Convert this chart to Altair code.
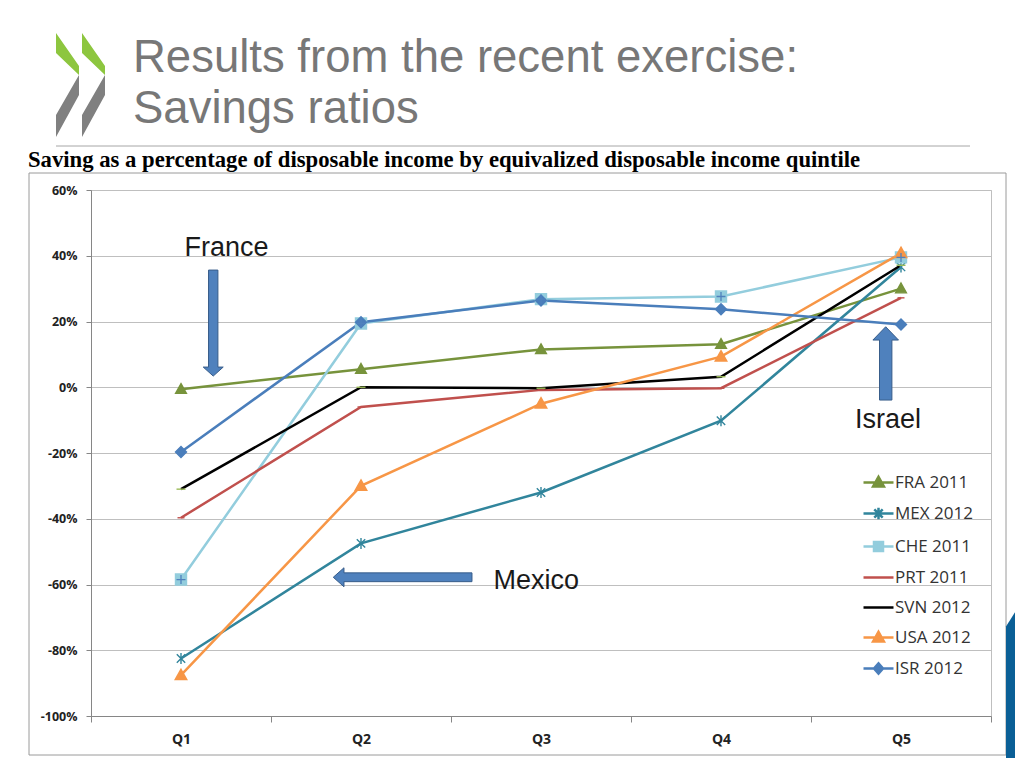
import altair as alt
import pandas as pd

# ---------------- data ----------------
quintiles = ["Q1", "Q2", "Q3", "Q4", "Q5"]
series_names = ["FRA 2011", "MEX 2012", "CHE 2011", "PRT 2011", "SVN 2012", "USA 2012", "ISR 2012"]
fra_2011 = [-0.6, 5.5, 11.5, 13.1, 30.0]
mex_2012 = [-82.5, -47.5, -32.0, -10.2, 36.6]
che_2011 = [-58.5, 19.4, 26.8, 27.6, 39.5]
prt_2011 = [-39.7, -6.0, -0.8, -0.3, 27.2]
svn_2012 = [-31.0, 0.0, -0.3, 3.2, 37.1]
usa_2012 = [-87.6, -30.0, -5.0, 9.3, 40.8]
isr_2012 = [-19.7, 19.8, 26.4, 23.7, 19.1]
series_values = [fra_2011, mex_2012, che_2011, prt_2011, svn_2012, usa_2012, isr_2012]

y_ticks = [-100, -80, -60, -40, -20, 0, 20, 40, 60]

# annotations (position in data units: quintile position, percent)
note_texts = ["France", "Israel", "Mexico"]
note_q = [1.02, 4.744, 2.736]
note_pct = [39.9, -12.3, -61.5]
arrow_names = ["France", "Israel", "Mexico"]
arrow_tip_q = [1.179, 4.915, 1.846]
arrow_tip_pct = [3.4, 18.4, -57.8]

title_line1 = "Results from the recent exercise:"
title_line2 = "Savings ratios"
subtitle = "Saving as a percentage of disposable income by equivalized disposable income quintile"

# ---------------- tables ----------------
rows = []
for name, vals in zip(series_names, series_values):
    for i, v in enumerate(vals):
        rows.append({"series": name, "q": i + 1, "quintile": quintiles[i], "pct": v})
df = pd.DataFrame(rows)

notes_df = pd.DataFrame({"text": note_texts, "q": note_q, "pct": note_pct})
arrows_df = pd.DataFrame({"name": arrow_names, "q": arrow_tip_q, "pct": arrow_tip_pct})
one = pd.DataFrame({"a": [0]})

# ---------------- styles ----------------
line_colors = ["#77933C", "#31859C", "#93CDDD", "#C0504D", "#000000", "#F79646", "#4A7EBB"]
marker_fill = ["#77933C", "#31859C", "#93CDDD", "#C0504D", "#9BBB59", "#F79646", "#4A7EBB"]
marker_stroke = ["#77933C", "#31859C", "#93CDDD", "#C0504D", "#9BBB59", "#F79646", "#4A7EBB"]
tri = "M0,-5.6L5.4,4.2L-5.4,4.2Z"
marker_paths = [
    tri,
    "M-4.2,-4.2L4.2,4.2M-4.2,4.2L4.2,-4.2M0,-5.5V5.5",
    "M-5.5,-5.5H5.5V5.5H-5.5Z",
    "M-3.5,0H3.5",
    "M-4.5,0H4.5",
    "M0,-6L5.8,4.4L-5.8,4.4Z",
    "M0,-5.5L5.5,0L0,5.5L-5.5,0Z",
]
ltri = "M-1,0H1M0,-0.38L0.36,0.26L-0.36,0.26Z"
legend_paths = [
    ltri,
    "M-1,0H1M-0.28,-0.28L0.28,0.28M-0.28,0.28L0.28,-0.28M0,-0.38V0.38",
    "M-1,0H1M-0.3,-0.3H0.3V0.3H-0.3ZM0,-0.3V0.3",
    "M-1,0H1",
    "M-1,0H1",
    ltri,
    "M-1,0H1M0,-0.34L0.3,0L0,0.34L-0.3,0Z",
]
arrow_paths = {
    "France": "M-4.7,-106H4.7V-9H10L0,0L-10,-9H-4.7Z",
    "Israel": "M0,0L12.8,13.3H6.2V73.3H-6.2V13.3H-12.8Z",
    "Mexico": "M0,0L10.7,-9.5V-4.4H138.7V4.4H10.7V9.5Z",
}

AX = "#868686"
FONT = "Open Sans"

x_enc = alt.X(
    "q:Q",
    scale=alt.Scale(domain=[0.5, 5.5], nice=False, zero=False),
    axis=alt.Axis(
        values=[0.5, 1.5, 2.5, 3.5, 4.5, 5.5],
        labelExpr="[" + ",".join("'%s'" % s for s in quintiles) + "][round(datum.value - 0.5)] || ''",
        labelOffset=90,
        labelFlush=False,
        labelOverlap=False,
        grid=False,
        tickSize=6,
        tickColor=AX,
        domainColor=AX,
        labelFont=FONT,
        labelFontWeight="bold",
        labelFontSize=14,
        labelColor="#222222",
        labelPadding=10,
        title=None,
    ),
)
y_enc = alt.Y(
    "pct:Q",
    scale=alt.Scale(domain=[-100, 60], nice=False, zero=False),
    axis=alt.Axis(
        values=y_ticks,
        labelExpr="datum.value + '%'",
        grid=True,
        gridColor="#BFBFBF",
        gridWidth=1,
        tickSize=5,
        tickColor=AX,
        domainColor=AX,
        labelFont=FONT,
        labelFontWeight="bold",
        labelFontSize=12.5,
        labelColor="#222222",
        labelPadding=9,
        title=None,
    ),
)

# ---------------- decorations ----------------
box = alt.Chart(one).mark_rect(fillOpacity=0, stroke="#9A9A9A", strokeWidth=1).encode(
    x=alt.value(-62), x2=alt.value(915), y=alt.value(-17), y2=alt.value(565)
)
corner = alt.Chart(one).mark_point(
    shape="M0,28.6L18,0L18,170L0,170Z", size=4, filled=True, fill="#0A5F96", opacity=1
).encode(x=alt.value(915), y=alt.value(408))

logo_green = alt.Chart(one).mark_point(
    shape="M0,0L23,33L23,42L0,20ZM26,0L49,33L49,42L26,20Z",
    size=4, filled=True, fill="#8DC63F", opacity=1,
).encode(x=alt.value(-35), y=alt.value(-157))
logo_gray = alt.Chart(one).mark_point(
    shape="M23,42L23,62L0,104L0,82ZM49,42L49,62L26,104L26,82Z",
    size=4, filled=True, fill="#808080", opacity=1,
).encode(x=alt.value(-35), y=alt.value(-157))

t1 = alt.Chart(one).mark_text(
    text=title_line1, align="left", baseline="alphabetic", font="Liberation Sans",
    fontSize=45.5, color="#777777",
).encode(x=alt.value(42), y=alt.value(-118))
t2 = alt.Chart(one).mark_text(
    text=title_line2, align="left", baseline="alphabetic", font="Liberation Sans",
    fontSize=45.5, color="#777777",
).encode(x=alt.value(42), y=alt.value(-67))
hr = alt.Chart(one).mark_rule(color="#A6A6A6", strokeWidth=1).encode(
    x=alt.value(-35), x2=alt.value(879), y=alt.value(-44)
)
st = alt.Chart(one).mark_text(
    text=subtitle, align="left", baseline="alphabetic", font="Liberation Serif",
    fontSize=22.7, fontWeight="bold", color="#000000",
).encode(x=alt.value(-63), y=alt.value(-23))

# ---------------- data layers ----------------
lines = alt.Chart(df).mark_line(strokeWidth=2.5).encode(
    x=x_enc,
    y=y_enc,
    color=alt.Color("series:N", scale=alt.Scale(domain=series_names, range=line_colors), legend=None),
)
markers = alt.Chart(df).mark_point(filled=True, size=4, opacity=1, strokeWidth=1.4).encode(
    x=x_enc,
    y=y_enc,
    fill=alt.Fill("series:N", scale=alt.Scale(domain=series_names, range=marker_fill), legend=None),
    stroke=alt.Stroke("series:N", scale=alt.Scale(domain=series_names, range=marker_stroke), legend=None),
    shape=alt.Shape("series:N", scale=alt.Scale(domain=series_names, range=marker_paths), legend=None),
)
che_cross = alt.Chart(df).transform_filter(alt.datum.series == "CHE 2011").mark_point(
    shape="M0,-4.5V4.5M-4.5,0H4.5", size=4, filled=False, stroke="#4F81BD", strokeWidth=1.3, opacity=1
).encode(x=x_enc, y=y_enc)

arrows = alt.layer(*[
    alt.Chart(arrows_df).transform_filter(alt.datum.name == n).mark_point(
        shape=arrow_paths[n], size=4, filled=True, fill="#4F81BD", stroke="#385D8A",
        strokeWidth=1, opacity=1,
    ).encode(x=x_enc, y=y_enc)
    for n in arrow_names
])

notes = alt.Chart(notes_df).mark_text(
    align="left", baseline="alphabetic", font="Liberation Sans", fontSize=27, color="#1A1A1A"
).encode(x=x_enc, y=y_enc, text="text:N")

leg = alt.Legend(
    orient="none", legendX=771, legendY=276, padding=0, title=None,
    labelFont=FONT, labelFontSize=17, labelColor="#333333", labelOffset=0,
    symbolSize=900, symbolStrokeWidth=2.5, rowPadding=5, labelLimit=0, symbolLimit=0,
)
legend_layer = alt.Chart(df).transform_filter("datum.q > 99").mark_point(
    filled=True, opacity=1, size=900
).encode(
    fill=alt.Fill("series:N", scale=alt.Scale(domain=series_names, range=line_colors), legend=leg),
    stroke=alt.Stroke("series:N", scale=alt.Scale(domain=series_names, range=line_colors), legend=leg),
    shape=alt.Shape("series:N", scale=alt.Scale(domain=series_names, range=legend_paths), legend=leg),
)

chart = alt.layer(
    box, corner, logo_green, logo_gray, t1, t2, hr, st,
    lines, markers, che_cross, arrows, notes, legend_layer,
).resolve_scale(
    fill="independent", stroke="independent", shape="independent"
).properties(
    width=900, height=526,
    padding={"left": 83, "top": 182, "right": 24, "bottom": 42},
    autosize=alt.AutoSizeParams(type="none"),
).configure_view(stroke="#BFBFBF")

chart.save("out.html", embed_options={"renderer": "svg", "actions": False})
